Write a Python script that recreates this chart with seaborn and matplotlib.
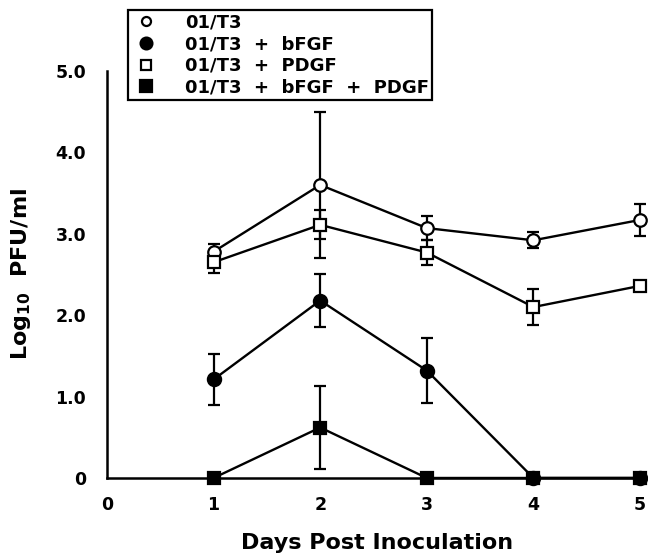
import matplotlib
matplotlib.use("Agg")
import matplotlib.pyplot as plt
import seaborn as sns
from matplotlib.lines import Line2D

days = [1, 2, 3, 4, 5]
t3 = [2.78, 3.60, 3.07, 2.92, 3.17]
t3_err = [0.10, 0.90, 0.15, 0.10, 0.20]
pdgf = [2.65, 3.11, 2.77, 2.10, 2.36]
pdgf_err = [0.13, 0.18, 0.15, 0.22, 0.0]
bfgf = [1.21, 2.18, 1.32, 0.0, 0.0]
bfgf_err = [0.31, 0.32, 0.40, 0.0, 0.0]
both = [0.0, 0.62, 0.0, 0.0, 0.0]
both_err = [0.04, 0.51, 0.04, 0.0, 0.0]
labels = ["01/T3", "01/T3  +  bFGF", "01/T3  +  PDGF", "01/T3  +  bFGF  +  PDGF"]
yticks = [0, 1, 2, 3, 4, 5]
yticklabels = ["0", "1.0", "2.0", "3.0", "4.0", "5.0"]
xticks = [0, 1, 2, 3, 4, 5]

sns.set_theme(style="white")
plt.rcParams["font.family"] = ["DejaVu Sans"]
plt.rcParams["text.color"] = "black"
plt.rcParams["axes.labelcolor"] = "black"
plt.rcParams["mathtext.fontset"] = "custom"
plt.rcParams["mathtext.rm"] = "DejaVu Sans:bold"
plt.rcParams["mathtext.it"] = "DejaVu Sans:bold"
plt.rcParams["mathtext.bf"] = "DejaVu Sans:bold"

fig = plt.figure(figsize=(6.48, 5.58), dpi=100)
ax = fig.add_axes([0.1651, 0.1434, 1.0 - 0.1651, 0.7294])

series = [
    (t3, t3_err, "o", "white", 9.0, 6.5),
    (bfgf, bfgf_err, "o", "black", 9.5, 8.5),
    (pdgf, pdgf_err, "s", "white", 8.5, 6.5),
    (both, both_err, "s", "black", 9.0, 8.0),
]

for vals, errs, mk, fc, ms, lms in series:
    idx = [i for i, e in enumerate(errs) if e > 0]
    ax.errorbar([days[i] for i in idx], [vals[i] for i in idx],
                yerr=[errs[i] for i in idx], fmt="none", ecolor="black",
                elinewidth=1.6, capsize=4.5, capthick=1.6, zorder=2, clip_on=False)

for vals, errs, mk, fc, ms, lms in series:
    sns.lineplot(x=days, y=vals, ax=ax, color="black", linewidth=1.7,
                 marker=mk, markersize=ms, markerfacecolor=fc,
                 markeredgecolor="black", markeredgewidth=1.6,
                 legend=False, zorder=3, clip_on=False)

ax.set_xlim(0, 5.075)
ax.set_ylim(0, 5.0)
ax.set_yticks(yticks)
ax.set_yticklabels(yticklabels, fontweight="bold", fontsize=12.5, color="black")
ax.set_xticks(xticks)
ax.set_xticklabels([str(x) for x in xticks], fontweight="bold", fontsize=12.5, color="black")
ax.tick_params(axis="y", direction="in", length=6, width=1.6, pad=15, colors="black")
ax.tick_params(axis="x", length=0, pad=13, colors="black")
for s in ["top", "right"]:
    ax.spines[s].set_visible(False)
for s in ["left", "bottom"]:
    ax.spines[s].set_linewidth(1.8)
    ax.spines[s].set_color("black")

ax.set_xlabel("Days Post Inoculation", fontsize=16, fontweight="bold", labelpad=14, color="black")
ax.set_ylabel(r"Log$_{10}$  PFU/ml", fontsize=16, fontweight="bold", labelpad=16, color="black")

handles = [Line2D([], [], linestyle="none", marker=mk, markersize=lms,
                  markerfacecolor=fc, markeredgecolor="black", markeredgewidth=1.6)
           for vals, errs, mk, fc, ms, lms in series]
leg = fig.legend(handles, labels, loc="upper left", bbox_to_anchor=(0.1975, 0.982),
                 frameon=True, fancybox=False, edgecolor="black", framealpha=1,
                 borderaxespad=0, borderpad=0.2, labelspacing=0.2,
                 handlelength=1.6, handletextpad=1.35,
                 prop={"weight": "bold", "size": 13})
leg.get_frame().set_linewidth(1.6)
for t in leg.get_texts():
    t.set_color("black")

fig.savefig("out.png", dpi=100)
